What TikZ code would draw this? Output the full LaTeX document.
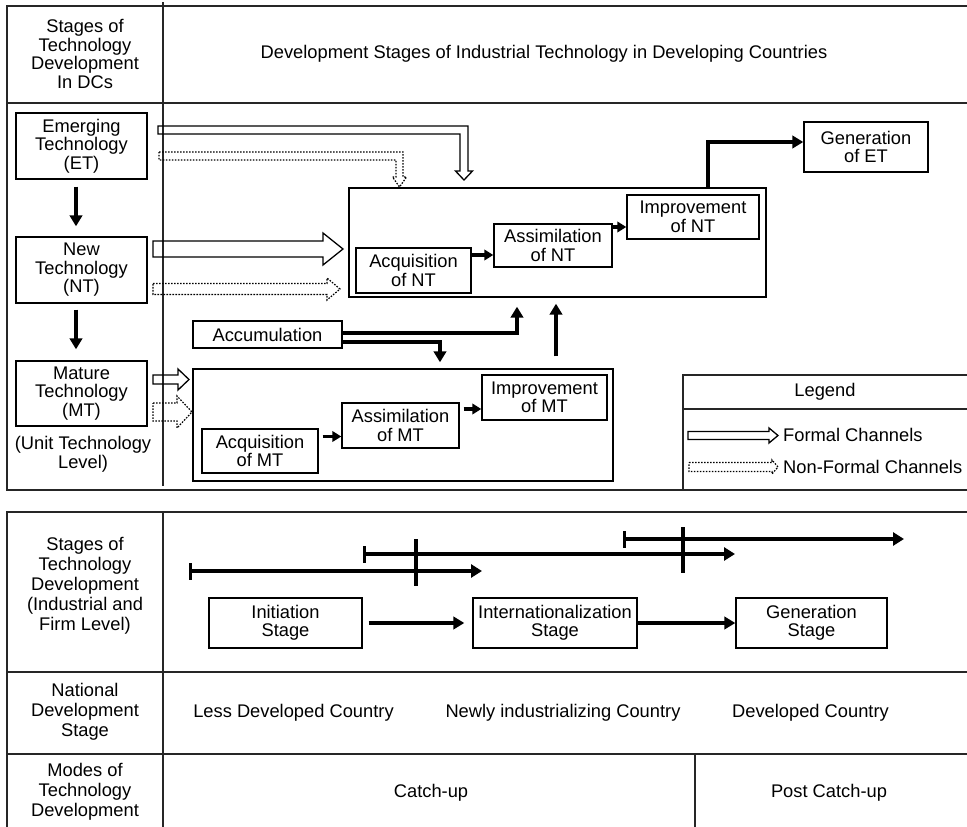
\documentclass[tikz,border=0pt]{standalone}
\usepackage{fontspec}
\setmainfont{Liberation Sans}
\usetikzlibrary{arrows.meta,calc}
\begin{document}
\begin{tikzpicture}[x=1pt,y=-1pt,
  every node/.style={font=\fontsize{18.3}{18.5}\selectfont, align=center, inner sep=0pt},
  box/.style={draw, line width=1.4pt},
  tbl/.style={line width=1.4pt, draw=black!85},
  thickarr/.style={line width=3.2pt, -{Triangle[length=11pt,width=12.5pt]}},
  smallarr/.style={line width=3.2pt, -{Triangle[length=9pt,width=10.5pt]}},
  tline/.style={line width=3.1pt, {Bar[width=17pt]}-{Triangle[length=11pt,width=13pt]}},
  formal/.style={line width=1.3pt, line join=miter},
  nonformal/.style={line width=1.2pt, dash pattern=on 1.6pt off 1.4pt},
  lbl/.style={font=\fontsize{18.3}{20}\selectfont}
]
\useasboundingbox (0,0) rectangle (967,827);

% ---------- top table ----------
\draw[tbl] (967,6) -- (7,6) -- (7,490) -- (967,490);
\draw[tbl] (7,103) -- (967,103);
\draw[tbl] (163,2) -- (163,486);
% legend frame
\draw[tbl] (967,375) -- (683,375) -- (683,490);
\draw[tbl] (683,409) -- (967,409);

\node (hdrL) at (85,54) {Stages of\\Technology\\Development\\In DCs};
\node (hdrR) at (544,54) {Development Stages of Industrial Technology in Developing Countries};

% left column boxes
\node[box, minimum width=131pt, minimum height=66pt] (et) at (81.5,146) {Emerging\\Technology\\(ET)};
\node[box, minimum width=131pt, minimum height=66pt] (nt) at (81.5,270) {New\\Technology\\(NT)};
\node[box, minimum width=131pt, minimum height=65pt] (mt) at (81.5,393.5) {Mature\\Technology\\(MT)};
\node (unit) at (83,454.5) {(Unit Technology\\Level)};

% NT block
\node[box, minimum width=417pt, minimum height=109pt] (ntbox) at (557.5,242.5) {};
\node[box, minimum width=115pt, minimum height=45pt] (acqnt) at (413.5,270.5) {Acquisition\\of NT};
\node[box, minimum width=118pt, minimum height=43pt] (assimnt) at (553,245.5) {Assimilation\\of NT};
\node[box, minimum width=132pt, minimum height=44pt] (imprnt) at (693,217) {Improvement\\of NT};
\node[box, minimum width=124pt, minimum height=50pt] (genet) at (866,147) {Generation\\of ET};

% accumulation
\node[box, minimum width=149pt, minimum height=27pt] (accum) at (267.5,334.5) {Accumulation};

% MT block
\node[box, minimum width=420pt, minimum height=112pt] (mtbox) at (403,425) {};
\node[box, minimum width=116pt, minimum height=44pt] (acqmt) at (260,451) {Acquisition\\of MT};
\node[box, minimum width=117pt, minimum height=45pt] (assimmt) at (400.5,425.5) {Assimilation\\of MT};
\node[box, minimum width=125pt, minimum height=45pt] (imprmt) at (544.5,397.5) {Improvement\\of MT};

% legend
\node (legt) at (825,392) {Legend};
\node[anchor=west] (legf) at (783,435) {Formal Channels};
\node[anchor=west] (legn) at (783,467) {Non-Formal Channels};

% hollow (formal) arrows
\draw[formal] (158,126) -- (468,126) -- (468,171) -- (472.5,171) -- (464,180) -- (455.5,171) -- (460,171) -- (460,134) -- (158,134) -- cycle;
\draw[formal] (153,241) -- (323,241) -- (323,233) -- (343,249) -- (323,265) -- (323,257) -- (153,257) -- cycle;
\draw[formal] (153,375) -- (178,375) -- (178,369) -- (189,379.5) -- (178,390) -- (178,384) -- (153,384) -- cycle;
\draw[formal] (688,431.5) -- (769,431.5) -- (769,428) -- (778,435.5) -- (769,443) -- (769,439.5) -- (688,439.5) -- cycle;
% dotted (non-formal) arrows
\draw[nonformal] (159,152) -- (403,152) -- (403,177) -- (406.5,177) -- (399.5,187) -- (392.5,177) -- (396,177) -- (396,160) -- (159,160) -- cycle;
\draw[nonformal] (153,283.5) -- (327,283.5) -- (327,278) -- (340,289) -- (327,300) -- (327,294.5) -- (153,294.5) -- cycle;
\draw[nonformal] (153,403) -- (177,403) -- (177,396) -- (192,412) -- (177,428) -- (177,421) -- (153,421) -- cycle;
\draw[nonformal] (689,462.5) -- (772,462.5) -- (772,460) -- (778,467) -- (772,474) -- (772,471.5) -- (689,471.5) -- cycle;

% black connectors
\coordinate (cx) at (76,0);
\draw[thickarr, shorten <=7pt, shorten >=10pt] (et.south -| cx) -- (nt.north -| cx);
\draw[thickarr, shorten <=6pt, shorten >=11pt] (nt.south -| cx) -- (mt.north -| cx);
\coordinate (y1) at (0,255);
\draw[smallarr] (acqnt.east |- y1) -- (assimnt.west |- y1);
\coordinate (y2) at (0,227);
\draw[smallarr] (assimnt.east |- y2) -- (imprnt.west |- y2);
\coordinate (g) at (708,142);
\draw[thickarr, line join=miter] (ntbox.north -| g) |- (genet.west |- g);
\coordinate (a1) at (517,333);
\draw[thickarr, line join=miter, shorten >=9pt] (accum.east |- a1) -| (ntbox.south -| a1);
\coordinate (a2) at (440,342);
\draw[thickarr, line join=miter, shorten >=6pt] (accum.east |- a2) -| (mtbox.north -| a2);
\coordinate (a3) at (556,0);
\draw[thickarr, shorten <=12pt, shorten >=6pt] (mtbox.north -| a3) -- (ntbox.south -| a3);
\coordinate (y3) at (0,436.5);
\draw[smallarr, shorten <=4pt] (acqmt.east |- y3) -- (assimmt.west |- y3);
\coordinate (y4) at (0,409);
\draw[smallarr, shorten <=4pt] (assimmt.east |- y4) -- (imprmt.west |- y4);

% ---------- bottom table ----------
\draw[tbl] (967,512) -- (7,512) -- (7,827);
\draw[tbl] (163,512) -- (163,827);
\draw[tbl] (7,672) -- (967,672);
\draw[tbl] (7,754) -- (967,754);
\draw[tbl] (695,754) -- (695,827);

\node[lbl] (bl1) at (85,586) {Stages of\\Technology\\Development\\(Industrial and\\Firm Level)};
\node[lbl] (bl2) at (85,712) {National\\Development\\Stage};
\node[lbl] (bl3) at (85,792) {Modes of\\Technology\\Development};

\coordinate (t1s) at (189,571); \coordinate (t1e) at (482,571);
\coordinate (t2s) at (363,554); \coordinate (t2e) at (735,554);
\coordinate (t3s) at (623,539); \coordinate (t3e) at (904,539);
\draw[tline] (t1s) -- (t1e);
\draw[tline] (t2s) -- (t2e);
\draw[tline] (t3s) -- (t3e);
\coordinate (k1a) at (416,539); \coordinate (k1b) at (416,586);
\coordinate (k2a) at (683,527); \coordinate (k2b) at (683,573);
\draw[line width=3.1pt] (k1a) -- (k1b);
\draw[line width=3.1pt] (k2a) -- (k2b);

\node[box, minimum width=153pt, minimum height=50pt] (init) at (285.5,623) {Initiation\\Stage};
\node[box, minimum width=164pt, minimum height=50pt] (intl) at (555,623) {Internationalization\\Stage};
\node[box, minimum width=151pt, minimum height=50pt] (gens) at (811.5,623) {Generation\\Stage};
\draw[thickarr, shorten <=6pt, shorten >=8pt] (init.east) -- (intl.west);
\draw[thickarr] (intl.east) -- (gens.west);

\node (ldc) at (293.5,713) {Less Developed Country};
\node (nic) at (563,713) {Newly industrializing Country};
\node (dc) at (810.5,713) {Developed Country};
\node (cu) at (431,793) {Catch-up};
\node (pcu) at (829,793) {Post Catch-up};
\end{tikzpicture}
\end{document}
